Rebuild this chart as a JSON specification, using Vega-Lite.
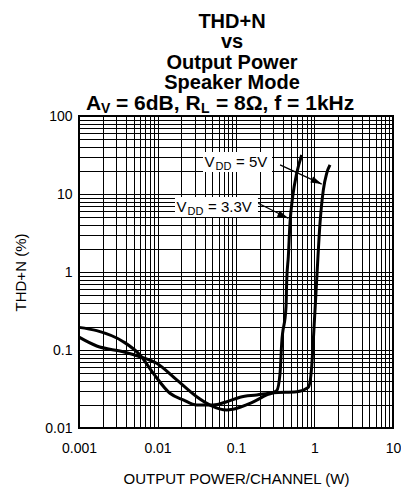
{
  "$schema": "https://vega.github.io/schema/vega-lite/v6.json",
  "width": 314,
  "height": 312,
  "autosize": {"type": "none"},
  "padding": {"left": 79, "top": 116, "right": 8, "bottom": 61},
  "background": "white",
  "config": {
    "font": "Liberation Sans",
    "view": {"stroke": "black", "strokeWidth": 2}
  },
  "title": {
    "text": ["THD+N", "vs", "Output Power", "Speaker Mode"],
    "font": "Liberation Sans",
    "fontSize": 20,
    "fontWeight": "bold",
    "lineHeight": 20.3,
    "anchor": "middle",
    "frame": "group",
    "offset": 0,
    "dx": -4,
    "color": "black"
  },
  "datasets": {
    "curves": [
      {"series": "5V", "i": 1, "P": 0.001, "thd": 0.195},
      {"series": "5V", "i": 2, "P": 0.00168, "thd": 0.177},
      {"series": "5V", "i": 3, "P": 0.00366, "thd": 0.128},
      {"series": "5V", "i": 4, "P": 0.00598, "thd": 0.0863},
      {"series": "5V", "i": 5, "P": 0.00885, "thd": 0.0502},
      {"series": "5V", "i": 6, "P": 0.0144, "thd": 0.0279},
      {"series": "5V", "i": 7, "P": 0.0213, "thd": 0.0229},
      {"series": "5V", "i": 8, "P": 0.0316, "thd": 0.0197},
      {"series": "5V", "i": 9, "P": 0.0509, "thd": 0.0197},
      {"series": "5V", "i": 10, "P": 0.0762, "thd": 0.0217},
      {"series": "5V", "i": 11, "P": 0.1125, "thd": 0.0248},
      {"series": "5V", "i": 12, "P": 0.1836, "thd": 0.0265},
      {"series": "5V", "i": 13, "P": 0.299, "thd": 0.0284},
      {"series": "5V", "i": 14, "P": 0.593, "thd": 0.0292},
      {"series": "5V", "i": 15, "P": 0.834, "thd": 0.0332},
      {"series": "5V", "i": 16, "P": 0.921, "thd": 0.0611},
      {"series": "5V", "i": 17, "P": 0.966, "thd": 0.134},
      {"series": "5V", "i": 18, "P": 1.066, "thd": 0.79},
      {"series": "5V", "i": 19, "P": 1.175, "thd": 4.21},
      {"series": "5V", "i": 20, "P": 1.295, "thd": 11.2},
      {"series": "5V", "i": 21, "P": 1.43, "thd": 18.4},
      {"series": "5V", "i": 22, "P": 1.574, "thd": 23.6},
      {"series": "3.3V", "i": 1, "P": 0.001, "thd": 0.146},
      {"series": "3.3V", "i": 2, "P": 0.00168, "thd": 0.1125},
      {"series": "3.3V", "i": 3, "P": 0.00366, "thd": 0.095},
      {"series": "3.3V", "i": 4, "P": 0.00598, "thd": 0.082},
      {"series": "3.3V", "i": 5, "P": 0.00977, "thd": 0.0675},
      {"series": "3.3V", "i": 6, "P": 0.0176, "thd": 0.0413},
      {"series": "3.3V", "i": 7, "P": 0.0316, "thd": 0.0252},
      {"series": "3.3V", "i": 8, "P": 0.0467, "thd": 0.0197},
      {"series": "3.3V", "i": 9, "P": 0.0762, "thd": 0.017},
      {"series": "3.3V", "i": 10, "P": 0.0916, "thd": 0.0174},
      {"series": "3.3V", "i": 11, "P": 0.151, "thd": 0.0207},
      {"series": "3.3V", "i": 12, "P": 0.246, "thd": 0.0265},
      {"series": "3.3V", "i": 13, "P": 0.33, "thd": 0.0301},
      {"series": "3.3V", "i": 14, "P": 0.364, "thd": 0.0502},
      {"series": "3.3V", "i": 15, "P": 0.382, "thd": 0.122},
      {"series": "3.3V", "i": 16, "P": 0.434, "thd": 0.359},
      {"series": "3.3V", "i": 17, "P": 0.443, "thd": 0.789},
      {"series": "3.3V", "i": 18, "P": 0.464, "thd": 1.57},
      {"series": "3.3V", "i": 19, "P": 0.487, "thd": 4.21},
      {"series": "3.3V", "i": 20, "P": 0.527, "thd": 9.2},
      {"series": "3.3V", "i": 21, "P": 0.593, "thd": 18.4},
      {"series": "3.3V", "i": 22, "P": 0.687, "thd": 31.6}
    ],
    "labels": [
      {"series": "5V", "bx1": 0.038, "bx2": 0.2877, "by1": 34.5, "by2": 19.1, "lx": 0.038, "ly": 22.2, "rest": "= 5V", "ax1": 0.364, "ay1": 23.6, "ax2": 1.236, "ay2": 13.4},
      {"series": "3.3V", "bx1": 0.0167, "bx2": 0.1905, "by1": 9.16, "by2": 5.07, "lx": 0.0167, "ly": 5.88, "rest": "= 3.3V", "ax1": 0.192, "ay1": 7.6, "ax2": 0.463, "ay2": 4.88}
    ]
  },
  "layer": [
    {
      "data": {"name": "curves"},
      "mark": {"type": "line", "color": "black", "strokeWidth": 3, "interpolate": "monotone", "strokeJoin": "round"},
      "encoding": {
        "x": {
          "field": "P", "type": "quantitative",
          "scale": {"type": "log", "domain": [0.001, 10], "nice": false},
          "axis": {
            "title": "OUTPUT POWER/CHANNEL (W)",
            "values": [0.001, 0.002, 0.003, 0.004, 0.005, 0.006, 0.007, 0.008, 0.009, 0.01, 0.02, 0.03, 0.04, 0.05, 0.06, 0.07, 0.08, 0.09, 0.1, 0.2, 0.3, 0.4, 0.5, 0.6, 0.7, 0.8, 0.9, 1, 2, 3, 4, 5, 6, 7, 8, 9, 10],
            "format": "~g",
            "labelExpr": "abs(log(datum.value)/LN10 - round(log(datum.value)/LN10)) < 0.001 ? datum.label : ''",
            "grid": true, "gridColor": "black", "gridOpacity": 1, "gridWidth": 1,
            "ticks": false, "domain": false,
            "labelOverlap": false, "labelFlush": false,
            "labelFontSize": 14, "labelColor": "black", "labelPadding": 13,
            "titleFontSize": 15, "titleFontWeight": "normal", "titleColor": "black", "titlePadding": 16
          }
        },
        "y": {
          "field": "thd", "type": "quantitative",
          "scale": {"type": "log", "domain": [0.01, 100], "nice": false},
          "axis": {
            "title": "THD+N (%)",
            "values": [0.01, 0.02, 0.03, 0.04, 0.05, 0.06, 0.07, 0.08, 0.09, 0.1, 0.2, 0.3, 0.4, 0.5, 0.6, 0.7, 0.8, 0.9, 1, 2, 3, 4, 5, 6, 7, 8, 9, 10, 20, 30, 40, 50, 60, 70, 80, 90, 100],
            "format": "~g",
            "labelExpr": "abs(log(datum.value)/LN10 - round(log(datum.value)/LN10)) < 0.001 ? datum.label : ''",
            "grid": true, "gridColor": "black", "gridOpacity": 1, "gridWidth": 1,
            "ticks": false, "domain": false,
            "labelOverlap": false, "labelFlush": false,
            "labelFontSize": 14, "labelColor": "black", "labelPadding": 7,
            "titleFontSize": 15, "titleFontWeight": "normal", "titleColor": "black", "titlePadding": 16
          }
        },
        "detail": {"field": "series"},
        "order": {"field": "i"}
      }
    },
    {
      "data": {"name": "labels"},
      "mark": {"type": "rect", "fill": "white", "stroke": null},
      "encoding": {
        "x": {"field": "bx1", "type": "quantitative"},
        "x2": {"field": "bx2"},
        "y": {"field": "by1", "type": "quantitative"},
        "y2": {"field": "by2"}
      }
    },
    {
      "data": {"name": "labels"},
      "mark": {"type": "text", "text": "V", "align": "left", "baseline": "alphabetic", "fontSize": 15, "dx": 1.5, "color": "black"},
      "encoding": {
        "x": {"field": "lx", "type": "quantitative"},
        "y": {"field": "ly", "type": "quantitative"}
      }
    },
    {
      "data": {"name": "labels"},
      "mark": {"type": "text", "text": "DD", "align": "left", "baseline": "alphabetic", "fontSize": 11, "dx": 12.5, "dy": 3, "color": "black"},
      "encoding": {
        "x": {"field": "lx", "type": "quantitative"},
        "y": {"field": "ly", "type": "quantitative"}
      }
    },
    {
      "data": {"name": "labels"},
      "mark": {"type": "text", "align": "left", "baseline": "alphabetic", "fontSize": 15, "dx": 33, "color": "black"},
      "encoding": {
        "x": {"field": "lx", "type": "quantitative"},
        "y": {"field": "ly", "type": "quantitative"},
        "text": {"field": "rest"}
      }
    },
    {
      "data": {"name": "labels"},
      "mark": {"type": "rule", "color": "black", "strokeWidth": 1.2},
      "encoding": {
        "x": {"field": "ax1", "type": "quantitative"},
        "y": {"field": "ay1", "type": "quantitative"},
        "x2": {"field": "ax2"},
        "y2": {"field": "ay2"}
      }
    },
    {
      "data": {"name": "labels"},
      "mark": {"type": "point", "shape": "M0,0L-2,-0.6L-2,0.6Z", "filled": true, "color": "black", "opacity": 1, "size": 121, "angle": 25, "strokeWidth": 0},
      "encoding": {
        "x": {"field": "ax2", "type": "quantitative"},
        "y": {"field": "ay2", "type": "quantitative"}
      }
    },
    {
      "data": {"values": [{}]},
      "mark": {"type": "text", "text": "A", "align": "left", "baseline": "alphabetic", "fontSize": 21, "fontWeight": "bold", "dx": -150, "dy": -6, "color": "black"},
      "encoding": {"x": {"datum": 0.1, "type": "quantitative"}, "y": {"datum": 100, "type": "quantitative"}}
    },
    {
      "data": {"values": [{}]},
      "mark": {"type": "text", "text": "V", "align": "left", "baseline": "alphabetic", "fontSize": 14, "fontWeight": "bold", "dx": -135, "dy": -3, "color": "black"},
      "encoding": {"x": {"datum": 0.1, "type": "quantitative"}, "y": {"datum": 100, "type": "quantitative"}}
    },
    {
      "data": {"values": [{}]},
      "mark": {"type": "text", "text": "= 6dB, R", "align": "left", "baseline": "alphabetic", "fontSize": 21, "fontWeight": "bold", "dx": -120, "dy": -6, "color": "black"},
      "encoding": {"x": {"datum": 0.1, "type": "quantitative"}, "y": {"datum": 100, "type": "quantitative"}}
    },
    {
      "data": {"values": [{}]},
      "mark": {"type": "text", "text": "L", "align": "left", "baseline": "alphabetic", "fontSize": 14, "fontWeight": "bold", "dx": -35, "dy": -3, "color": "black"},
      "encoding": {"x": {"datum": 0.1, "type": "quantitative"}, "y": {"datum": 100, "type": "quantitative"}}
    },
    {
      "data": {"values": [{}]},
      "mark": {"type": "text", "text": "= 8Ω, f = 1kHz", "align": "left", "baseline": "alphabetic", "fontSize": 21, "fontWeight": "bold", "dx": -20, "dy": -6, "color": "black"},
      "encoding": {"x": {"datum": 0.1, "type": "quantitative"}, "y": {"datum": 100, "type": "quantitative"}}
    }
  ]
}
